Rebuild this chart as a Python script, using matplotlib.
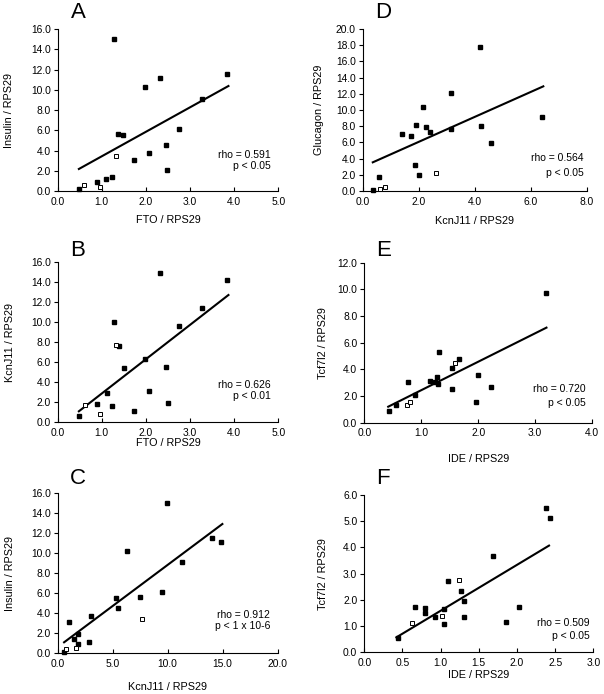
#!/usr/bin/env python3
"""Correlation scatter panels (A-F) for gene expression normalized to RPS29."""

import matplotlib
matplotlib.use('Agg')
import matplotlib.pyplot as plt
from matplotlib.ticker import FormatStrFormatter

plt.rcParams['font.family'] = ['Liberation Sans', 'DejaVu Sans']

# --- Panel A: FTO vs Insulin ---
a_fill_x = [0.48, 0.88, 1.10, 1.23, 1.27, 1.37, 1.48, 1.74, 1.97, 2.06, 2.33, 2.45, 2.48, 2.76, 3.26, 3.84]
a_fill_y = [0.20, 0.92, 1.22, 1.38, 15.05, 5.68, 5.55, 3.12, 10.28, 3.81, 11.17, 4.53, 2.07, 6.14, 9.13, 11.53]
a_open_x = [0.60, 0.96, 1.32]
a_open_y = [0.59, 0.46, 3.48]
a_fit_x = [0.48, 3.87]
a_fit_y = [2.20, 10.38]

# --- Panel B: FTO vs KcnJ11 ---
b_fill_x = [0.48, 0.88, 1.11, 1.24, 1.27, 1.38, 1.50, 1.74, 1.97, 2.06, 2.33, 2.46, 2.51, 2.76, 3.27, 3.84]
b_fill_y = [0.67, 1.87, 2.97, 1.60, 10.03, 7.67, 5.43, 1.10, 6.37, 3.10, 14.90, 5.53, 1.93, 9.63, 11.47, 14.23]
b_open_x = [0.63, 0.97, 1.32]
b_open_y = [1.77, 0.87, 7.73]
b_fit_x = [0.48, 3.87]
b_fit_y = [1.10, 12.73]

# --- Panel C: KcnJ11 vs Insulin ---
c_fill_x = [0.58, 1.06, 1.48, 1.82, 1.82, 2.88, 3.03, 5.30, 5.45, 6.27, 7.52, 9.48, 9.91, 11.33, 14.06, 14.85]
c_fill_y = [0.17, 3.13, 1.40, 1.97, 0.90, 1.17, 3.73, 5.50, 4.57, 10.27, 5.67, 6.13, 15.00, 9.13, 11.50, 11.17]
c_open_x = [0.79, 1.70, 7.64]
c_open_y = [0.43, 0.57, 3.47]
c_fit_x = [0.58, 14.97]
c_fit_y = [1.10, 12.93]

# --- Panel D: KcnJ11 vs Glucagon ---
d_fill_x = [0.37, 0.58, 1.42, 1.71, 1.90, 1.88, 2.01, 2.17, 2.25, 2.39, 3.14, 3.14, 4.19, 4.21, 4.58, 6.42]
d_fill_y = [0.08, 1.73, 7.04, 6.79, 8.19, 3.25, 1.98, 10.33, 7.86, 7.33, 12.10, 7.70, 17.74, 7.98, 5.93, 9.18]
d_open_x = [0.63, 0.80, 2.60]
d_open_y = [0.29, 0.45, 2.18]
d_fit_x = [0.36, 6.45]
d_fit_y = [3.54, 12.92]

# --- Panel E: IDE vs Tcf7l2 ---
e_fill_x = [0.43, 0.56, 0.77, 0.89, 1.16, 1.24, 1.28, 1.29, 1.32, 1.54, 1.54, 1.66, 1.96, 1.99, 2.23, 3.19]
e_fill_y = [0.85, 1.35, 3.05, 2.10, 3.15, 3.05, 3.43, 2.90, 5.30, 4.08, 2.50, 4.78, 1.58, 3.58, 2.70, 9.70]
e_open_x = [0.75, 0.81, 1.59]
e_open_y = [1.35, 1.53, 4.50]
e_fit_x = [0.42, 3.20]
e_fit_y = [1.20, 7.13]

# --- Panel F: IDE vs Tcf7l2 ---
f_fill_x = [0.44, 0.67, 0.79, 0.80, 0.93, 1.04, 1.04, 1.09, 1.27, 1.30, 1.31, 1.69, 1.85, 2.03, 2.38, 2.43]
f_fill_y = [0.55, 1.74, 1.69, 1.49, 1.33, 1.64, 1.08, 2.72, 2.33, 1.94, 1.35, 3.67, 1.16, 1.72, 5.52, 5.12]
f_open_x = [0.63, 1.02, 1.24]
f_open_y = [1.10, 1.39, 2.76]
f_fit_x = [0.42, 2.42]
f_fit_y = [0.57, 4.07]

W, H = 604, 694

# panel: (letter, data, xlabel, ylabel, xlim/step, ylim/step, stats, layout in pixels)
panels = [
    dict(letter='A', fx=a_fill_x, fy=a_fill_y, ox=a_open_x, oy=a_open_y, lx=a_fit_x, ly=a_fit_y,
         xlabel='FTO / RPS29', ylabel='Insulin / RPS29', xmax=5.0, xstep=1.0, ymax=16.0, ystep=2.0,
         rho='rho = 0.591', p='p < 0.05', box=(57.7, 278.3, 29.0, 191.3),
         stat_x=0.966, rho_y=0.224, p_y=0.156, xl_y=220, yl_x=9, let=(71, 13)),
    dict(letter='B', fx=b_fill_x, fy=b_fill_y, ox=b_open_x, oy=b_open_y, lx=b_fit_x, ly=b_fit_y,
         xlabel='FTO / RPS29', ylabel='KcnJ11 / RPS29', xmax=5.0, xstep=1.0, ymax=16.0, ystep=2.0,
         rho='rho = 0.626', p='p < 0.01', box=(57.7, 278.3, 262.3, 422.3),
         stat_x=0.966, rho_y=0.233, p_y=0.163, xl_y=443, yl_x=10, let=(70, 250)),
    dict(letter='C', fx=c_fill_x, fy=c_fill_y, ox=c_open_x, oy=c_open_y, lx=c_fit_x, ly=c_fit_y,
         xlabel='KcnJ11 / RPS29', ylabel='Insulin / RPS29', xmax=20.0, xstep=5.0, ymax=16.0, ystep=2.0,
         rho='rho = 0.912', p='p < 1 x 10-6', box=(57.7, 277.7, 493.3, 653.3),
         stat_x=0.966, rho_y=0.2375, p_y=0.169, xl_y=687, yl_x=10, let=(70, 479)),
    dict(letter='D', fx=d_fill_x, fy=d_fill_y, ox=d_open_x, oy=d_open_y, lx=d_fit_x, ly=d_fit_y,
         xlabel='KcnJ11 / RPS29', ylabel='Glucagon / RPS29', xmax=8.0, xstep=2.0, ymax=20.0, ystep=2.0,
         rho='rho = 0.564', p='p < 0.05', box=(362.7, 586.7, 29.0, 191.0),
         stat_x=0.985, rho_y=0.204, p_y=0.113, xl_y=221, yl_x=319, let=(375, 13)),
    dict(letter='E', fx=e_fill_x, fy=e_fill_y, ox=e_open_x, oy=e_open_y, lx=e_fit_x, ly=e_fit_y,
         xlabel='IDE / RPS29', ylabel='Tcf7l2 / RPS29', xmax=4.0, xstep=1.0, ymax=12.0, ystep=2.0,
         rho='rho = 0.720', p='p < 0.05', box=(364.3, 592.0, 262.7, 422.7),
         stat_x=0.974, rho_y=0.209, p_y=0.125, xl_y=459, yl_x=322.7, let=(376, 251)),
    dict(letter='F', fx=f_fill_x, fy=f_fill_y, ox=f_open_x, oy=f_open_y, lx=f_fit_x, ly=f_fit_y,
         xlabel='IDE / RPS29', ylabel='Tcf7l2 / RPS29', xmax=3.0, xstep=0.5, ymax=6.0, ystep=1.0,
         rho='rho = 0.509', p='p < 0.05', box=(364.3, 593.3, 495.0, 652.3),
         stat_x=0.986, rho_y=0.186, p_y=0.106, xl_y=675, yl_x=322.7, let=(376, 479)),
]


def draw_panel(fig, d):
    left, right, top, bottom = d['box']
    ax = fig.add_axes([left / W, 1 - bottom / H, (right - left) / W, (bottom - top) / H])

    ax.plot(d['lx'], d['ly'], color='black', lw=1.5, zorder=2)
    ax.plot(d['fx'], d['fy'], 's', color='black', ms=3.1, zorder=3, clip_on=False)
    ax.plot(d['ox'], d['oy'], 's', mfc='white', mec='black', mew=0.7, ms=2.9, zorder=3, clip_on=False)

    ax.set_xlim(0, d['xmax'])
    ax.set_ylim(0, d['ymax'])
    n_x = int(round(d['xmax'] / d['xstep']))
    n_y = int(round(d['ymax'] / d['ystep']))
    ax.set_xticks([i * d['xstep'] for i in range(n_x + 1)])
    ax.set_yticks([i * d['ystep'] for i in range(n_y + 1)])
    ax.xaxis.set_major_formatter(FormatStrFormatter('%.1f'))
    ax.yaxis.set_major_formatter(FormatStrFormatter('%.1f'))

    for s in ('top', 'right'):
        ax.spines[s].set_visible(False)
    for s in ('left', 'bottom'):
        ax.spines[s].set_linewidth(0.8)
    ax.tick_params(axis='x', direction='in', length=3, width=0.8, labelsize=7.4, pad=4)
    ax.tick_params(axis='y', direction='out', length=3, width=0.8, labelsize=7.4, pad=2)

    # axis labels placed by pixel position
    ax.set_xlabel(d['xlabel'], fontsize=7.8, va='center')
    ax.xaxis.set_label_coords(0.5, (bottom - d['xl_y']) / (bottom - top))
    ax.set_ylabel(d['ylabel'], fontsize=7.8, va='center')
    ax.yaxis.set_label_coords((d['yl_x'] - left) / (right - left), 0.5)

    # correlation stats
    ax.text(d['stat_x'], d['rho_y'], d['rho'], transform=ax.transAxes,
            ha='right', va='center', fontsize=7.5)
    ax.text(d['stat_x'], d['p_y'], d['p'], transform=ax.transAxes,
            ha='right', va='center', fontsize=7.5)

    # panel letter
    lx, ly = d['let']
    fig.text(lx / W, 1 - ly / H, d['letter'], ha='left', va='center', fontsize=16)
    return ax


def main():
    fig = plt.figure(figsize=(W / 100, H / 100), dpi=100)
    for d in panels:
        draw_panel(fig, d)
    fig.savefig('out.png', dpi=100, facecolor='white')
    plt.close(fig)


if __name__ == '__main__':
    main()
